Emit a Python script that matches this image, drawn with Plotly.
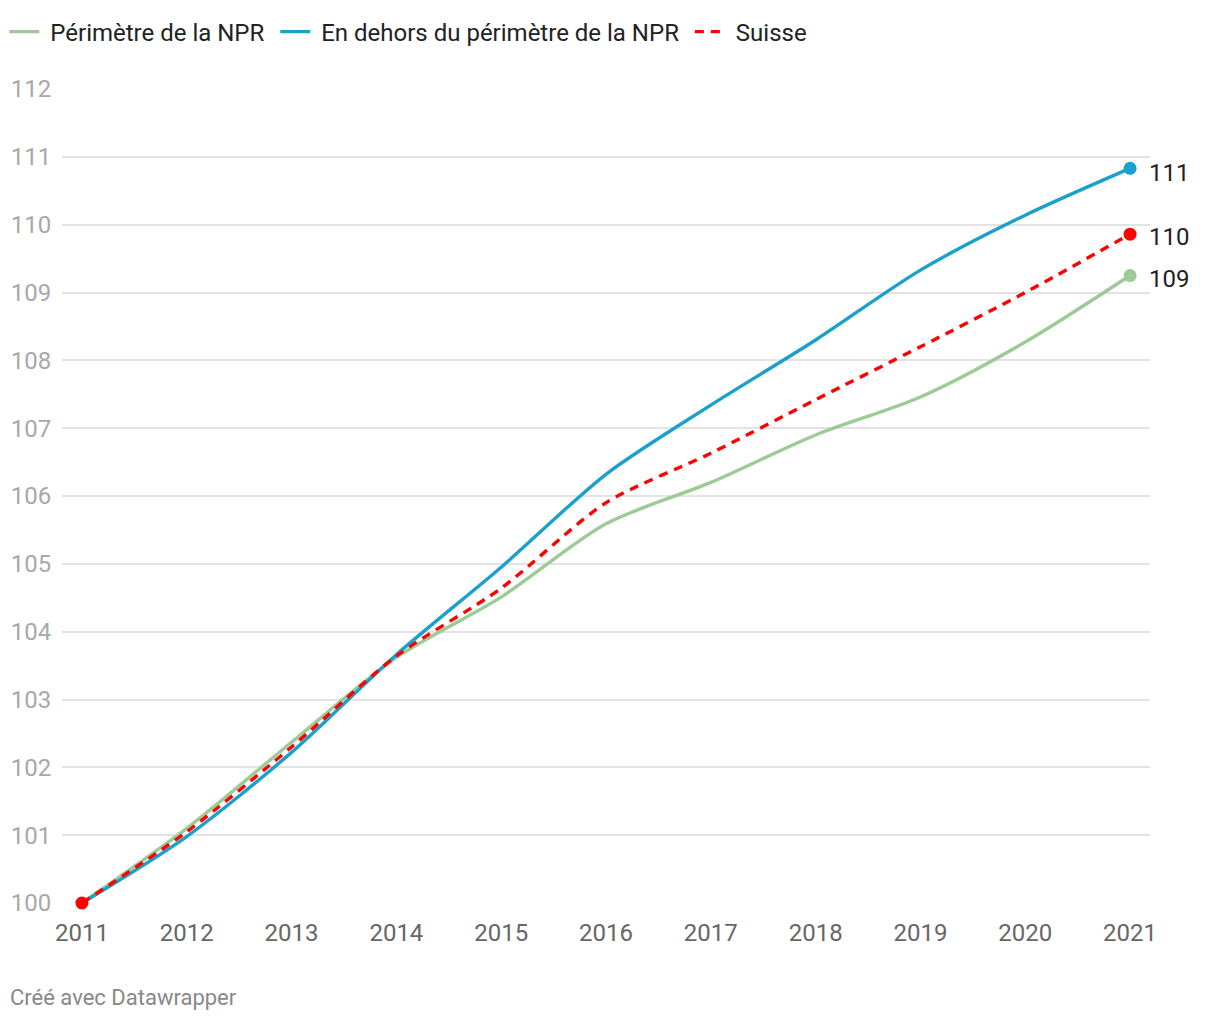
import plotly.graph_objects as go

years = [2011, 2012, 2013, 2014, 2015, 2016, 2017, 2018, 2019, 2020, 2021]
npr = [100, 101.1, 102.37, 103.62, 104.51, 105.59, 106.2, 106.9, 107.46, 108.27, 109.25]
hors_npr = [100, 100.98, 102.22, 103.66, 104.95, 106.32, 107.34, 108.3, 109.33, 110.14, 110.83]
suisse = [100, 101.05, 102.3, 103.64, 104.64, 105.9, 106.63, 107.42, 108.2, 109.0, 109.86]
end_labels = ["109", "111", "110"]
y_ticks = list(range(100, 113))

names = ["Périmètre de la NPR", "En dehors du périmètre de la NPR", "Suisse"]
colors = ["#9ccb95", "#1aa0cc", "#ff0000"]
series = [npr, hors_npr, suisse]
dashes = ["solid", "solid", "9px,7px"]
label_shift = [3, 5, 3]

NB = "\u00a0"

fig = go.Figure()
for name, col, vals, dash in zip(names, colors, series, dashes):
    fig.add_trace(go.Scatter(
        x=years, y=vals, name=NB + name + NB, mode="lines",
        line=dict(color=col, width=3.4, shape="spline", smoothing=0.8, dash=dash),
        cliponaxis=False,
    ))
for name, col, vals in zip(names, colors, series):
    fig.add_trace(go.Scatter(
        x=[years[-1]], y=[vals[-1]], mode="markers", showlegend=False,
        marker=dict(color=col, size=13), cliponaxis=False, hoverinfo="skip",
    ))
fig.add_trace(go.Scatter(
    x=[years[0]], y=[suisse[0]], mode="markers", showlegend=False,
    marker=dict(color="#ff0000", size=13), cliponaxis=False, hoverinfo="skip",
))

for vals, lab, sh in zip(series, end_labels, label_shift):
    fig.add_annotation(
        x=years[-1], y=vals[-1], text=lab, showarrow=False,
        xanchor="left", yanchor="middle", xshift=17, yshift=-sh,
        font=dict(family="Roboto", size=24, color="#222222"),
    )

fig.add_annotation(
    x=0, xref="paper", xanchor="left", xshift=-54,
    y=0, yref="paper", yanchor="middle", yshift=-94,
    text="Créé avec Datawrapper", showarrow=False,
    font=dict(family="Roboto", size=22, color="#888888"),
)

fig.update_layout(
    width=1220, height=1020,
    margin=dict(l=62, r=70, t=89, b=117, autoexpand=False),
    paper_bgcolor="white", plot_bgcolor="white",
    font=dict(family="Roboto"),
    showlegend=True,
    legend=dict(
        orientation="h", x=-0.053, xanchor="left", y=1.07, yanchor="middle",
        font=dict(family="Roboto", size=24, color="#222222"),
        itemwidth=30, tracegroupgap=0,
    ),
    xaxis=dict(
        range=[2010.81, 2021.19], tickvals=years, ticktext=[str(y) for y in years],
        showgrid=False, zeroline=False, showline=False, automargin=False,
        ticks="outside", ticklen=8, tickcolor="rgba(0,0,0,0)",
        tickfont=dict(family="Roboto", size=24, color="#666666"),
    ),
    yaxis=dict(
        range=[100, 112], tickvals=y_ticks, showgrid=True, gridcolor="#e3e3e3",
        gridwidth=1.5, zeroline=False, showline=False, automargin=False,
        ticks="outside", ticklen=5, tickcolor="rgba(0,0,0,0)",
        tickfont=dict(family="Roboto", size=24, color="#a8a8a8"),
    ),
)

fig.write_html("out.html", config={"displayModeBar": False},
               post_script="document.body.style.margin='0';")
